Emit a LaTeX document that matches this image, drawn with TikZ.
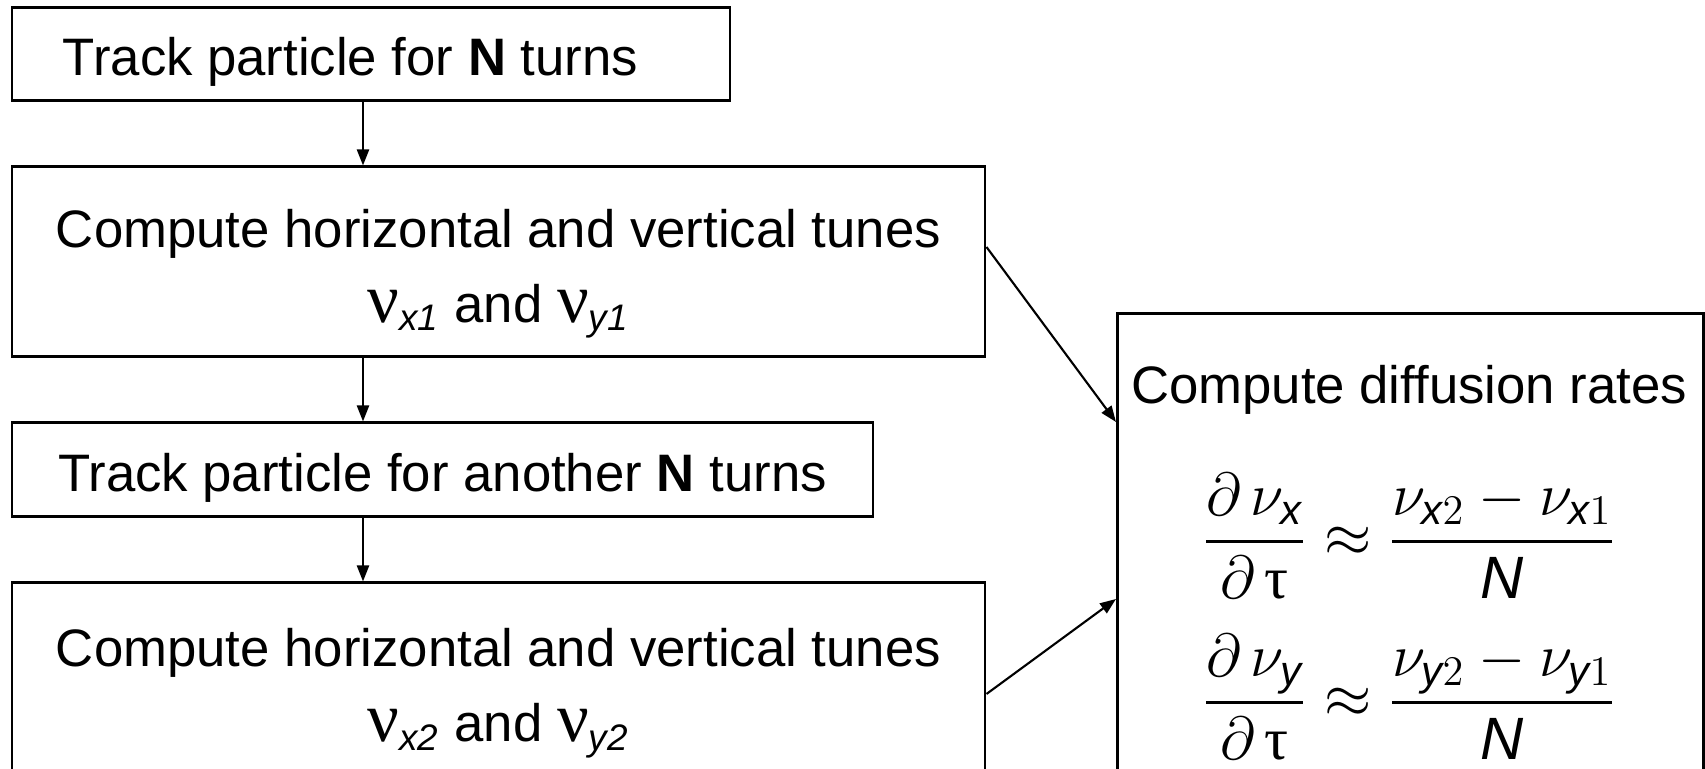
\documentclass[tikz,border=0pt]{standalone}
\usepackage{amsmath}
\usepackage{fontspec}
\setmainfont{Liberation Sans}
\setsansfont{Liberation Sans}
\newfontfamily\greekfont{Liberation Serif}
\usetikzlibrary{arrows.meta,positioning,calc}
\newcommand{\nuup}{{\greekfont\fontsize{20}{21}\selectfont ν}}
\newcommand{\tauup}{\text{\greekfont τ}}
\begin{document}
\begin{tikzpicture}[font=\fontsize{15}{21.5}\selectfont, >={Triangle[length=1.6mm,width=1.2mm]},
    stepbox/.style = {draw, line width=0.85pt, inner sep=0pt, align=center},
    flow/.style = {->, line width=0.6pt}]
    \clip (0,0) rectangle (17.05,-7.69);

    \node [stepbox, minimum width=7.18cm, minimum height=0.93cm, text height=0.54cm, text depth=0.11cm] (track1) at (3.71,-0.545) {Track particle for \textbf{N} turns\hspace*{0.41cm}};
    \node [stepbox, minimum width=9.73cm, minimum height=1.90cm, text height=1.37cm, text depth=0.15cm] (tunes1) at (4.985,-2.62) {Compute horizontal and vertical tunes\\ \nuup\textsubscript{\itshape x1} and \nuup\textsubscript{\itshape y1}};
    \node [stepbox, minimum width=8.61cm, minimum height=0.94cm, text height=0.54cm, text depth=0.11cm] (track2) at (4.425,-4.70) {Track particle for another \textbf{N} turns};
    \node [stepbox, minimum width=9.73cm, minimum height=2.06cm, text height=1.27cm, text depth=0.15cm] (tunes2) at (4.985,-6.86) {Compute horizontal and vertical tunes\\ \nuup\textsubscript{\itshape x2} and \nuup\textsubscript{\itshape y2}};
    \node [stepbox, anchor=north west, minimum width=5.86cm, minimum height=5cm] (rates) at (11.16,-3.12) {};

    \node [anchor=base] (ratestitle) at (14.09,-4.04) {Compute diffusion rates};
    \node [font=\fontsize{17}{20}\selectfont] (dnux) at (14.09,-5.36) {$\displaystyle \frac{\partial\,\nu_{\text{\itshape x}}}{\partial\,\tauup} \approx \frac{\nu_{\text{\itshape x}2}-\nu_{\text{\itshape x}1}}{\text{\itshape N}}$};
    \node [font=\fontsize{17}{20}\selectfont] (dnuy) at (14.09,-6.97) {$\displaystyle \frac{\partial\,\nu_{\text{\itshape y}}}{\partial\,\tauup} \approx \frac{\nu_{\text{\itshape y}2}-\nu_{\text{\itshape y}1}}{\text{\itshape N}}$};

    \coordinate (spine) at (3.63,0);
    \draw [flow] (track1.south -| spine) -- (tunes1.north -| spine);
    \draw [flow] (tunes1.south -| spine) -- (track2.north -| spine);
    \draw [flow] (track2.south -| spine) -- (tunes2.north -| spine);
    \draw [flow] ([yshift=1.5mm]tunes1.east) -- ([yshift=-1.1cm]rates.north west);
    \draw [flow] ([yshift=-0.08cm]tunes2.east) -- ([yshift=-2.87cm]rates.north west);

\end{tikzpicture}
\end{document}
